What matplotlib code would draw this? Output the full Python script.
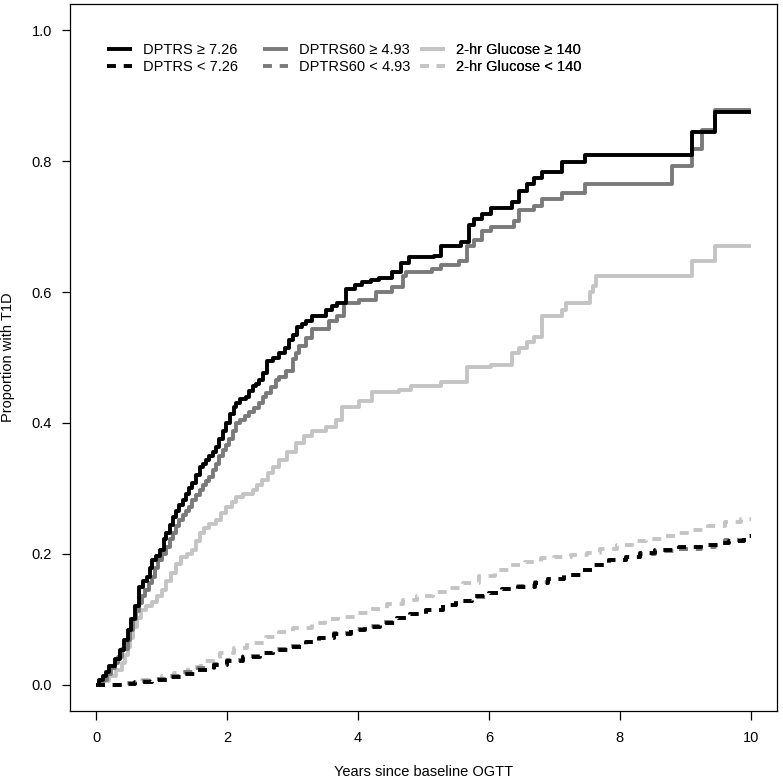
import numpy as np
import matplotlib
matplotlib.use('Agg')
import matplotlib.pyplot as plt

plt.rcParams['font.family'] = ['Liberation Sans', 'DejaVu Sans']

# DPTRS >= 7.26
t_dptrs_hi = [0, 0.05, 0.1, 0.15, 0.2, 0.28, 0.36, 0.42, 0.48, 0.53, 0.59, 0.66, 0.72, 0.77, 0.82,
              0.86, 0.92, 0.97, 1.04, 1.07, 1.12, 1.17, 1.22, 1.27, 1.32, 1.37, 1.42, 1.47, 1.53,
              1.58, 1.63, 1.68, 1.73, 1.78, 1.83, 1.88, 1.93, 1.99, 2.05, 2.1, 2.14, 2.2, 2.29,
              2.34, 2.39, 2.44, 2.49, 2.55, 2.61, 2.7, 2.8, 2.88, 2.95, 3.01, 3.07, 3.14, 3.2,
              3.3, 3.51, 3.6, 3.68, 3.82, 3.95, 4.06, 4.2, 4.32, 4.52, 4.66, 4.78, 5.16, 5.27,
              5.57, 5.69, 5.77, 5.9, 6.03, 6.35, 6.46, 6.58, 6.69, 6.81, 7.11, 7.47, 9.1, 9.45, 10]
v_dptrs_hi = [0, 0.007, 0.013, 0.02, 0.028, 0.04, 0.053, 0.068, 0.084, 0.1, 0.12, 0.15, 0.158,
              0.165, 0.178, 0.19, 0.197, 0.206, 0.222, 0.232, 0.244, 0.257, 0.265, 0.275, 0.283,
              0.292, 0.3, 0.309, 0.32, 0.333, 0.338, 0.344, 0.35, 0.356, 0.364, 0.375, 0.388, 0.40,
              0.413, 0.424, 0.431, 0.436, 0.44, 0.449, 0.456, 0.46, 0.466, 0.476, 0.494, 0.50,
              0.507, 0.515, 0.527, 0.535, 0.546, 0.551, 0.555, 0.563, 0.573, 0.578, 0.584, 0.604,
              0.61, 0.615, 0.618, 0.622, 0.63, 0.645, 0.653, 0.655, 0.67, 0.676, 0.703, 0.711,
              0.719, 0.729, 0.737, 0.754, 0.765, 0.774, 0.784, 0.798, 0.81, 0.844, 0.875, 0.875]

# DPTRS < 7.26
t_dptrs_lo = [0, 0.4, 0.6, 0.85, 1.1, 1.3, 1.55, 1.8, 2.0, 2.25, 2.5, 2.7, 2.95, 3.2, 3.4, 3.64,
              3.9, 4.1, 4.34, 4.6, 4.8, 5.04, 5.3, 5.5, 5.74, 6.0, 6.2, 6.44, 6.7, 6.9, 7.14, 7.4,
              7.6, 7.84, 8.1, 8.3, 8.54, 8.9, 9.24, 9.5, 9.66, 9.9, 10]
v_dptrs_lo = [0, 0.002, 0.004, 0.007, 0.012, 0.017, 0.023, 0.031, 0.037, 0.043, 0.048, 0.053,
              0.058, 0.066, 0.072, 0.078, 0.084, 0.089, 0.095, 0.102, 0.108, 0.115, 0.122, 0.128,
              0.135, 0.141, 0.146, 0.15, 0.156, 0.161, 0.168, 0.176, 0.183, 0.191, 0.196, 0.201,
              0.206, 0.21, 0.214, 0.216, 0.219, 0.228, 0.228]

# DPTRS60 >= 4.93
t_d60_hi = [0, 0.1, 0.16, 0.22, 0.28, 0.33, 0.4, 0.48, 0.52, 0.56, 0.61, 0.66, 0.7, 0.74, 0.8,
            0.85, 0.9, 0.94, 1.0, 1.07, 1.12, 1.17, 1.22, 1.27, 1.32, 1.37, 1.42, 1.47, 1.53,
            1.58, 1.63, 1.68, 1.73, 1.78, 1.83, 1.88, 1.93, 1.98, 2.03, 2.09, 2.14, 2.2, 2.27,
            2.34, 2.41, 2.49, 2.55, 2.6, 2.67, 2.75, 2.8, 2.9, 3.0, 3.05, 3.1, 3.2, 3.3, 3.56,
            3.68, 3.79, 4.01, 4.27, 4.52, 4.68, 4.73, 5.13, 5.27, 5.54, 5.67, 5.77, 5.9, 6.03,
            6.38, 6.46, 6.69, 6.81, 7.11, 7.47, 8.79, 9.1, 9.25, 9.45, 10]
v_d60_hi = [0, 0.008, 0.016, 0.025, 0.034, 0.043, 0.055, 0.069, 0.084, 0.1, 0.112, 0.125, 0.135,
            0.145, 0.155, 0.165, 0.178, 0.19, 0.2, 0.211, 0.222, 0.232, 0.242, 0.252, 0.26,
            0.266, 0.272, 0.282, 0.29, 0.298, 0.305, 0.312, 0.318, 0.328, 0.338, 0.349, 0.358,
            0.366, 0.375, 0.388, 0.40, 0.405, 0.41, 0.416, 0.423, 0.431, 0.44, 0.446, 0.455,
            0.466, 0.47, 0.48, 0.497, 0.507, 0.517, 0.53, 0.543, 0.555, 0.563, 0.584, 0.588,
            0.60, 0.607, 0.624, 0.63, 0.635, 0.642, 0.647, 0.67, 0.68, 0.693, 0.70, 0.708, 0.726,
            0.732, 0.742, 0.752, 0.765, 0.792, 0.818, 0.847, 0.878, 0.878]

# DPTRS60 < 4.93
t_d60_lo = [0, 0.4, 0.6, 0.85, 1.1, 1.3, 1.55, 1.8, 2.0, 2.25, 2.5, 2.7, 2.95, 3.2, 3.4, 3.64,
            3.9, 4.1, 4.34, 4.6, 4.8, 5.04, 5.3, 5.5, 5.74, 6.0, 6.2, 6.44, 6.7, 6.9, 7.14, 7.4,
            7.6, 7.84, 8.1, 8.3, 8.54, 8.9, 9.24, 9.45, 9.6, 10]
v_d60_lo = [0, 0.003, 0.006, 0.009, 0.014, 0.019, 0.025, 0.032, 0.038, 0.044, 0.049, 0.054,
            0.059, 0.066, 0.072, 0.079, 0.085, 0.09, 0.096, 0.102, 0.108, 0.115, 0.122, 0.128,
            0.134, 0.141, 0.146, 0.151, 0.157, 0.162, 0.168, 0.176, 0.183, 0.19, 0.195, 0.2,
            0.204, 0.207, 0.21, 0.213, 0.221, 0.221]

# 2-hr Glucose >= 140
t_glu_hi = [0, 0.1, 0.2, 0.3, 0.39, 0.44, 0.48, 0.52, 0.56, 0.62, 0.69, 0.76, 0.86, 0.93, 1.0,
            1.07, 1.15, 1.22, 1.3, 1.38, 1.46, 1.52, 1.58, 1.65, 1.72, 1.83, 1.9, 1.99, 2.07,
            2.14, 2.25, 2.39, 2.46, 2.54, 2.62, 2.7, 2.8, 2.92, 3.05, 3.18, 3.3, 3.51, 3.66,
            3.76, 4.01, 4.22, 4.63, 4.81, 5.27, 5.67, 6.03, 6.35, 6.46, 6.58, 6.69, 6.81, 7.11,
            7.17, 7.55, 7.59, 7.64, 9.1, 9.45, 10]
v_glu_hi = [0, 0.006, 0.014, 0.023, 0.034, 0.046, 0.058, 0.072, 0.089, 0.102, 0.115, 0.121,
            0.127, 0.136, 0.145, 0.158, 0.171, 0.184, 0.196, 0.2, 0.206, 0.219, 0.232, 0.24,
            0.245, 0.252, 0.262, 0.272, 0.28, 0.287, 0.292, 0.298, 0.305, 0.313, 0.323, 0.333,
            0.344, 0.355, 0.37, 0.38, 0.387, 0.394, 0.405, 0.425, 0.433, 0.448, 0.451, 0.457,
            0.462, 0.485, 0.489, 0.507, 0.515, 0.524, 0.532, 0.563, 0.573, 0.584, 0.60, 0.609,
            0.625, 0.647, 0.671, 0.671]

# 2-hr Glucose < 140
t_glu_lo = [0, 0.4, 0.7, 1.0, 1.19, 1.4, 1.6, 1.89, 2.1, 2.3, 2.6, 2.8, 3.0, 3.3, 3.5, 3.7, 3.99,
            4.2, 4.45, 4.69, 4.9, 5.15, 5.39, 5.6, 5.85, 6.09, 6.3, 6.55, 6.79, 7.0, 7.25, 7.49,
            7.7, 7.95, 8.19, 8.4, 8.65, 8.89, 9.1, 9.35, 9.6, 9.85, 10]
v_glu_lo = [0, 0.003, 0.008, 0.013, 0.018, 0.027, 0.037, 0.049, 0.057, 0.064, 0.073, 0.08,
            0.087, 0.095, 0.1, 0.104, 0.11, 0.116, 0.123, 0.13, 0.136, 0.142, 0.148, 0.156,
            0.166, 0.176, 0.183, 0.188, 0.193, 0.196, 0.199, 0.202, 0.207, 0.213, 0.219, 0.223,
            0.228, 0.232, 0.237, 0.243, 0.248, 0.254, 0.254]

black = 'black'
grey = '#7a7a7a'
light = '#c4c4c4'
lw = 2.8
dash = (2.3, 2.0)
fs = 10.5

fig = plt.figure(figsize=(7.83, 7.83), dpi=100)
ax = fig.add_axes([70/783, 1 - 711/783, 707/783, 707/783])

curves = [
    (t_dptrs_hi, v_dptrs_hi, black, '-', 'DPTRS \u2265 7.26'),
    (t_dptrs_lo, v_dptrs_lo, black, '--', 'DPTRS < 7.26'),
    (t_d60_hi, v_d60_hi, grey, '-', 'DPTRS60 \u2265 4.93'),
    (t_d60_lo, v_d60_lo, grey, '--', 'DPTRS60 < 4.93'),
    (t_glu_hi, v_glu_hi, light, '-', '2-hr Glucose \u2265 140'),
    (t_glu_lo, v_glu_lo, light, '--', '2-hr Glucose < 140'),
]

lines = []
# light curves first so the darker ones sit on top
for i in [5, 4, 3, 2, 1, 0]:
    t, v, c, ls, lab = curves[i]
    ln, = ax.step(t, v, where='post', color=c, lw=lw, linestyle=ls,
                  solid_capstyle='butt', dash_capstyle='butt')
    if ls == '--':
        ln.set_dashes(dash)
    lines.append((i, ln))
lines = [ln for i, ln in sorted(lines)]

ax.set_xlim(-0.4, 10.4)
ax.set_ylim(-0.04, 1.04)
ax.set_xticks([0, 2, 4, 6, 8, 10])
ax.set_yticks([0.0, 0.2, 0.4, 0.6, 0.8, 1.0])
ax.set_yticklabels(['0.0', '0.2', '0.4', '0.6', '0.8', '1.0'])
ax.tick_params(axis='x', length=6.5, width=0.9, pad=8, labelsize=fs)
ax.tick_params(axis='y', length=6, width=0.9, pad=7, labelsize=fs)
for s in ax.spines.values():
    s.set_linewidth(0.9)

ax.set_xlabel('Years since baseline OGTT', fontsize=fs)
ax.set_ylabel('Proportion with T1D', fontsize=fs)
ax.xaxis.set_label_coords(0.5, -0.076)
ax.yaxis.set_label_coords(-0.078, 0.5)

# three legend columns, as in the original
col_x = [(107 - 70) / 707, (263 - 70) / 707, (420 - 70) / 707]
for k in range(3):
    leg = ax.legend(lines[2*k:2*k+2], [curves[2*k][4], curves[2*k+1][4]],
                    loc='upper left', bbox_to_anchor=(col_x[k], (711 - 43) / 707),
                    frameon=False, fontsize=fs, handlelength=1.7, handletextpad=0.75,
                    labelspacing=0.2, borderpad=0, borderaxespad=0)
    ax.add_artist(leg)

fig.savefig('out.png', dpi=100)
